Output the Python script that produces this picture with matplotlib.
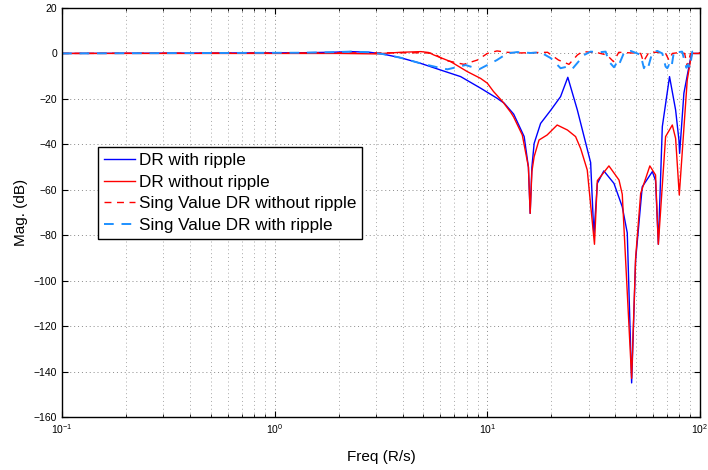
import matplotlib
matplotlib.use('Agg')
import matplotlib.pyplot as plt
from matplotlib.ticker import LogLocator, MultipleLocator, NullFormatter

plt.rcParams['font.family'] = ['Liberation Sans', 'DejaVu Sans']

# DR with ripple (blue solid)
freq_dr_ripple = [0.1, 1.32, 1.83, 2.28, 2.8, 3.2, 3.91, 4.87, 6.03, 7.49, 9.3, 11.1, 12.0,
                  13.3, 14.9, 15.6, 15.9, 16.2, 16.6, 17.8, 19.9, 22.1, 23.9, 26.5, 28.5,
                  30.6, 31.7, 32.9, 35.3, 39.4, 43.1, 45.5, 47.7, 49.8, 53.5, 59.7, 61.8,
                  63.7, 66.5, 71.9, 76.8, 79.6, 80.2, 84.0, 88.7, 91.3, 100]
mag_dr_ripple = [0, 0.3, 0.5, 0.8, 0.5, -0.2, -1.9, -4.4, -7.3, -10.2, -15.3, -19.7, -21.9,
                 -26.7, -36.6, -50, -70.4, -50, -39.6, -30.8, -24.9, -19, -10.5, -24.9, -36.6,
                 -48, -80, -57.2, -51.7, -57.2, -67.5, -79, -145, -90.9, -58.7, -52, -56,
                 -84, -32.2, -10.2, -24.9, -38.1, -44, -17.5, -5.8, 0, 0]

# DR without ripple (red solid)
freq_dr_noripple = [0.1, 2.0, 3.0, 3.91, 4.87, 5.3, 5.61, 6.72, 8.05, 9.3, 10.0, 10.7, 11.8,
                    12.9, 13.3, 14.6, 15.6, 15.9, 16.2, 16.6, 17.5, 19.1, 21.3, 23.8, 26.0,
                    27.5, 29.5, 31.9, 32.9, 37.3, 41.6, 43.1, 47.7, 49.8, 52.6, 58.1, 61.8,
                    63.7, 68.9, 74.1, 76.8, 79.9, 87.1, 90.3, 92.0, 100]
mag_dr_noripple = [0, 0, -0.2, 0.5, 0.8, 0.4, -0.7, -3.6, -8, -11, -13.1, -16.8, -21.2,
                   -26, -28, -35.9, -50, -70.4, -52, -45.4, -38.1, -35.9, -31.5, -33.7, -36.6,
                   -42, -51.3, -84, -56, -49.5, -55.7, -62, -143, -90, -61.6, -49.5, -53.5,
                   -84, -36.6, -31.5, -37.4, -62.3, -11.7, -2.9, 0, 0]

# Sing Value DR without ripple (red dashed)
freq_sv_noripple = [0.1, 5.0, 5.61, 6.25, 7.76, 8.98, 10.0, 11.1, 12.4, 14.0, 19.2, 21.6,
                    24.2, 26.5, 28.0, 33.0, 36.5, 39.2, 41.5, 46.0, 52.6, 54.2, 57.5, 63.0,
                    68.9, 71.4, 74.1, 80.0, 84.7, 87.1, 90.3, 100]
mag_sv_noripple = [0, 0.3, 0, -2.9, -4.8, -2.9, 0, 1.1, 0.5, 0.2, 0.5, -2.9,
                   -4.8, -0.7, 0.8, 0.3, -0.7, -3.6, 0.5, 0.3, 0, -3.6, 0.5, 0.5,
                   0, -2.9, 0, 0.4, 0, -5.8, 0, 0.3]

# Sing Value DR with ripple (light blue dashed)
freq_sv_ripple = [0.1, 1.32, 1.83, 2.28, 2.8, 3.2, 3.91, 4.87, 5.82, 6.49, 7.91, 9.14,
                  11.1, 12.4, 13.8, 16.0, 17.8, 19.9, 22.1, 23.8, 25.1, 28.5, 30.6, 33.4,
                  36.0, 37.3, 39.4, 40.2, 41.1, 44.0, 47.2, 50.7, 52.6, 54.5, 55.3, 56.9,
                  59.7, 63.0, 66.5, 68.9, 70.2, 71.4, 73.3, 75.4, 77.9, 82.4, 86.3, 88.0,
                  89.7, 92.0, 95.7, 100]
mag_sv_ripple = [0, 0.3, 0.5, 0.8, 0.5, -0.2, -1.9, -4.4, -6.1, -7, -5.1, -7,
                 -2.9, 0, 0.6, 0.2, 0.5, -2.1, -6.5, -5.8, -6.8, -0.7, 0.8, 0.5,
                 0.8, -3.6, -6.1, -4.8, -6.1, 0.5, 1.1, 0, -0.7, -6.5, -5.1, -6.5,
                 0.5, 1.1, 0, -5.8, -6.5, -5.1, -6.5, 0.8, 0.5, 0.8, -6.3, -4.8,
                 -6.3, 0.8, 0.5, 0.3]

fig = plt.figure(figsize=(7.08, 4.70), dpi=100)
ax = fig.add_axes([0.0876, 0.1128, 0.9011, 0.8702])

ax.semilogx(freq_dr_ripple, mag_dr_ripple, color='#0000ff', lw=1.0, label='DR with ripple')
ax.semilogx(freq_dr_noripple, mag_dr_noripple, color='#ff0000', lw=1.0, label='DR without ripple')
ax.semilogx(freq_sv_noripple, mag_sv_noripple, color='#ff0000', lw=1.0, dashes=(5, 4),
            label='Sing Value DR without ripple')
ax.semilogx(freq_sv_ripple, mag_sv_ripple, color='#1e90ff', lw=1.4, dashes=(5, 4),
            label='Sing Value DR with ripple')

ax.set_xlim(0.1, 100)
ax.set_ylim(-160, 20)
ax.yaxis.set_major_locator(MultipleLocator(20))
ax.xaxis.set_major_locator(LogLocator(base=10))
ax.xaxis.set_minor_locator(LogLocator(base=10, subs=range(2, 10)))
ax.xaxis.set_minor_formatter(NullFormatter())

ax.grid(True, which='major', linestyle=(0, (1, 3)), color='#8a8a8a', lw=0.7)
ax.grid(True, which='minor', axis='x', linestyle=(0, (1, 3)), color='#a8a8a8', lw=0.7)
ax.tick_params(which='both', direction='in', top=True, right=True, labelsize=7.5)
ax.tick_params(which='major', length=4)
ax.tick_params(which='minor', length=2)
for s in ax.spines.values():
    s.set_linewidth(1.0)

ax.set_xlabel('Freq (R/s)', fontsize=11, labelpad=10)
ax.set_ylabel('Mag. (dB)', fontsize=11, labelpad=4)

leg = ax.legend(loc='lower left', bbox_to_anchor=(0.056, 0.4345), fontsize=12.3,
                handlelength=1.85, handletextpad=0.2, borderpad=0.35, labelspacing=0.4,
                borderaxespad=0, fancybox=False, framealpha=1, edgecolor='black')
leg.get_frame().set_linewidth(1.0)

fig.savefig('out.png', dpi=100)
